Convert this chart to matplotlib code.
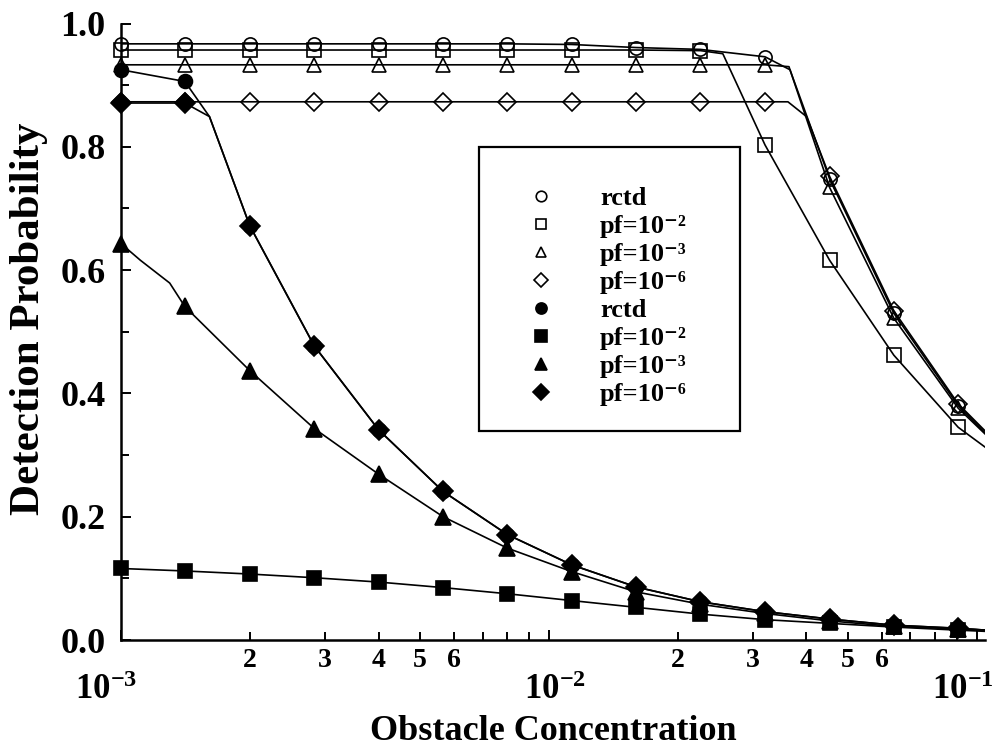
import matplotlib
matplotlib.use("Agg")
import matplotlib.pyplot as plt
from matplotlib.lines import Line2D
from matplotlib.patches import Rectangle
from matplotlib.ticker import LogLocator, FuncFormatter, NullFormatter, MultipleLocator
import numpy as np

plt.rcParams['font.family'] = ['Liberation Serif', 'DejaVu Serif']
plt.rcParams['font.weight'] = 'bold'
plt.rcParams['axes.labelweight'] = 'bold'
plt.rcParams['mathtext.fontset'] = 'custom'
plt.rcParams['mathtext.rm'] = 'Liberation Serif:bold'
plt.rcParams['mathtext.it'] = 'Liberation Serif:bold'
plt.rcParams['mathtext.bf'] = 'Liberation Serif:bold'

# obstacle concentration (marker positions)
conc = [0.001, 0.00141, 0.002, 0.00283, 0.004, 0.00566, 0.008,
        0.0113, 0.016, 0.0226, 0.032, 0.0453, 0.064, 0.0905]

# open symbols
open_rctd = [0.967, 0.967, 0.967, 0.967, 0.967, 0.967, 0.967,
             0.966, 0.961, 0.958, 0.946, 0.748, 0.530, 0.380]
open_pf2 = [0.957, 0.957, 0.957, 0.957, 0.957, 0.957, 0.957,
            0.957, 0.957, 0.956, 0.803, 0.616, 0.462, 0.345]
open_pf3 = [0.933, 0.933, 0.933, 0.933, 0.933, 0.933, 0.933,
            0.933, 0.933, 0.933, 0.933, 0.734, 0.522, 0.376]
open_pf6 = [0.873, 0.873, 0.873, 0.873, 0.873, 0.873, 0.873,
            0.873, 0.873, 0.873, 0.873, 0.752, 0.534, 0.383]

# filled symbols
fill_rctd = [0.925, 0.906, 0.672, 0.477, 0.341, 0.241, 0.171,
             0.122, 0.086, 0.062, 0.046, 0.034, 0.024, 0.019]
fill_pf2 = [0.116, 0.112, 0.107, 0.101, 0.094, 0.085, 0.075,
            0.064, 0.053, 0.042, 0.033, 0.027, 0.021, 0.016]
fill_pf3 = [0.643, 0.541, 0.437, 0.343, 0.269, 0.200, 0.149,
            0.111, 0.078, 0.058, 0.043, 0.031, 0.022, 0.018]
fill_pf6 = [0.871, 0.871, 0.672, 0.477, 0.341, 0.241, 0.171,
            0.122, 0.086, 0.062, 0.046, 0.034, 0.024, 0.019]

# extra curve points (knees and tails, no marker)
knee_open_rctd = ([0.0366, 0.105], [0.925, 0.335])
knee_open_pf2 = ([0.0255, 0.105], [0.951, 0.312])
knee_open_pf3 = ([0.0364, 0.105], [0.930, 0.333])
knee_open_pf6 = ([0.0362, 0.040, 0.105], [0.873, 0.849, 0.338])
knee_fill_rctd = ([0.00161, 0.105], [0.849, 0.016])
knee_fill_pf2 = ([0.105], [0.014])
knee_fill_pf3 = ([0.00111, 0.0013, 0.105], [0.616, 0.579, 0.016])
knee_fill_pf6 = ([0.00161, 0.105], [0.849, 0.016])

labels = ['rctd', 'pf=10⁻²', 'pf=10⁻³', 'pf=10⁻⁶',
          'rctd', 'pf=10⁻²', 'pf=10⁻³', 'pf=10⁻⁶']

series = [
    (open_rctd, knee_open_rctd, 'o', 'none', 9.5),
    (open_pf2, knee_open_pf2, 's', 'none', 9.5),
    (open_pf3, knee_open_pf3, '^', 'none', 9.5),
    (open_pf6, knee_open_pf6, 'D', 'none', 9.0),
    (fill_rctd, knee_fill_rctd, 'o', 'black', 10),
    (fill_pf2, knee_fill_pf2, 's', 'black', 10),
    (fill_pf3, knee_fill_pf3, '^', 'black', 11),
    (fill_pf6, knee_fill_pf6, 'D', 'black', 10.5),
]

fig = plt.figure(figsize=(10.03, 7.51), dpi=100)
ax = fig.add_axes([0.1206, 0.1478, 0.8614, 0.8209])

handles = []
for vals, knee, mk, fc, ms in series:
    lx = list(conc) + list(knee[0])
    ly = list(vals) + list(knee[1])
    order = np.argsort(lx)
    ax.plot(np.array(lx)[order], np.array(ly)[order], color='black', lw=1.2, zorder=2)
    ax.plot(conc, vals, linestyle='none', marker=mk, ms=ms, mfc=fc,
            mec='black', mew=1.2, zorder=3, clip_on=False)
    handles.append(Line2D([], [], linestyle='none', marker=mk, ms=ms * 0.8,
                          mfc=fc, mec='black', mew=1.2))

ax.set_xscale('log')
ax.set_xlim(0.001, 0.1045)
ax.set_ylim(0, 1.0)

for s in ['top', 'right']:
    ax.spines[s].set_visible(False)
for s in ['left', 'bottom']:
    ax.spines[s].set_linewidth(1.8)

ax.yaxis.set_major_locator(MultipleLocator(0.2))
ax.yaxis.set_minor_locator(MultipleLocator(0.1))
ax.yaxis.set_major_formatter(FuncFormatter(lambda v, p: '%.1f' % v))
ax.xaxis.set_major_locator(LogLocator(base=10))
ax.xaxis.set_minor_locator(LogLocator(base=10, subs=np.arange(2, 10)))
ax.xaxis.set_major_formatter(NullFormatter())


def minor_fmt(v, pos):
    d = int(round(v / 10 ** np.floor(np.log10(v) + 1e-9)))
    return str(d) if 2 <= d <= 6 else ''


ax.xaxis.set_minor_formatter(FuncFormatter(minor_fmt))
ax.tick_params(axis='both', which='both', direction='in', width=1.4)
ax.tick_params(axis='both', which='major', length=7)
ax.tick_params(axis='both', which='minor', length=6)
ax.tick_params(axis='y', which='major', labelsize=26, pad=11)
ax.tick_params(axis='x', which='minor', labelsize=20, pad=6)

# decade labels sit on a second row under the digits
decades = [0.001, 0.01, 0.1]
dec_labels = [r'$10^{-3}$', r'$10^{-2}$', r'$10^{-1}$']
dec_offsets = [-15, 6, -14]
for dv, dl, dx in zip(decades, dec_labels, dec_offsets):
    ax.annotate(dl, xy=(dv, 0), xycoords=('data', 'axes fraction'),
                xytext=(dx, -50), textcoords='offset pixels',
                ha='center', va='center', fontsize=25, annotation_clip=False)

ax.set_xlabel('Obstacle Concentration', fontsize=26, labelpad=30)
ax.set_ylabel('Detection Probability', fontsize=31)
ax.yaxis.set_label_coords(-0.085, 0.521)

ax.add_patch(Rectangle((0.414, 0.339), 0.302, 0.461, transform=ax.transAxes,
                       fill=False, edgecolor='black', lw=1.6, zorder=4))
ax.legend(handles, labels, loc='upper left', bbox_to_anchor=(0.471, 0.735),
          frameon=False, fontsize=19, borderpad=0, borderaxespad=0,
          handlelength=1.0, handletextpad=1.73, labelspacing=0.17)

fig.savefig('out.png', dpi=100)
